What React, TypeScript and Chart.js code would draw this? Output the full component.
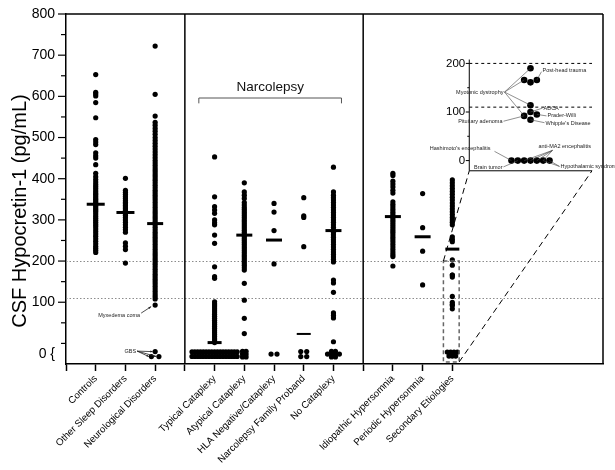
import React, { useEffect, useRef } from "react";
import { Chart, registerables } from "chart.js";

Chart.register(...registerables);

// ---------------- data ----------------
const categories = [
  "", "Controls", "Other Sleep Disorders", "Neurological Disorders", "",
  "Typical Cataplexy", "Atypical Cataplexy", "HLA Negative/Cataplexy",
  "Narcolepsy Family Proband", "No Cataplexy", "",
  "Idiopathic Hypersomnia", "Periodic Hypersomnia", "Secondary Etiologies",
];

const controls = [653, 610, 606, 601, 585, 548, 495, 489, 483, 463, 456, 450, 434, 413, 405, 398, 392, 386, 381, 376, 371, 366, 362, 358, 354, 350, 346, 342, 338, 335, 331, 327, 323, 319, 314, 309, 304, 299, 294, 289, 284, 278, 272, 266, 260, 254, 248, 242, 236, 231, 226, 221];
const otherSleep = [401, 372, 367, 362, 357, 352, 347, 343, 339, 335, 331, 327, 323, 319, 315, 311, 306, 300, 294, 288, 282, 276, 270, 244, 236, 228, 195];
const neurological = [722, 605, 552, 537, 530, 522, 515, 508, 500, 493, 486, 479, 472, 465, 458, 451, 444, 438, 432, 426, 420, 414, 408, 402, 396, 390, 384, 378, 372, 366, 360, 354, 348, 342, 336, 330, 324, 318, 312, 306, 300, 294, 288, 282, 276, 270, 264, 258, 252, 246, 240, 234, 228, 222, 216, 210, 204, 198, 192, 186, 180, 174, 168, 162, 156, 150, 144, 138, 132, 126, 120, 114, 108, 93];
const typicalCataplexy = [453, 356, 332, 324, 316, 300, 293, 288, 263, 243, 186, 162, 158, 101, 96, 91, 86, 81, 76, 71, 66, 61, 56, 51, 46, 41, 36, 31, 26, 21, 16, 11, 6, 2];
const atypicalCataplexy = [390, 368, 360, 352, 342, 336, 330, 325, 320, 315, 310, 305, 300, 295, 290, 285, 280, 275, 270, 265, 260, 255, 250, 245, 240, 235, 230, 225, 220, 215, 210, 205, 200, 195, 190, 184, 178, 146, 105, 61, 24];
const hlaNegative = [340, 319, 274, 193];
const familyProband = [354, 310, 306, 235];
const noCataplexy = [428, 368, 360, 354, 348, 342, 336, 330, 324, 318, 312, 306, 300, 294, 288, 282, 276, 270, 264, 258, 252, 246, 240, 234, 228, 222, 216, 210, 204, 198, 154, 147, 124, 74, 68, 62, 4];
const idiopathic = [413, 408, 394, 387, 380, 372, 365, 344, 338, 332, 326, 320, 315, 310, 305, 300, 295, 290, 285, 280, 275, 270, 264, 258, 252, 246, 240, 234, 228, 222, 216, 211, 188];
const periodic = [364, 281, 224, 142];
const secondary = [397, 390, 383, 376, 369, 362, 355, 348, 341, 334, 327, 320, 313, 306, 300, 294, 288, 259, 253, 247, 203, 190, 166, 166, 161, 114, 100, 95, 92, 84];

const groupValues = [null, controls, otherSleep, neurological, null, typicalCataplexy, atypicalCataplexy, hlaNegative, familyProband, noCataplexy, null, idiopathic, periodic, secondary];
const medians = [null, 338, 318, 291, null, 2, 263, 251, 23, 274, null, 308, 259, 229];
// counts of undetectable ("0 {") values, per row of the cluster
const undetectableRows = [[], [], [], [1, 2], [], [17, 17], [2, 2, 2], [2], [2, 2], [2, 4, 2], [], [], [], [4, 3]];

const cutoffs = [200, 110];
const yMajorTicks = [100, 200, 300, 400, 500, 600, 700, 800];

// enlarged panel: secondary etiologies below 200 pg/mL
const insetValues = [190, 161, 166, 166, 114, 100, 95, 92, 84, 0, 0, 0, 0, 0, 0, 0];
const insetTicks = [0, 100, 200];
const insetNotes = [
  { text: "Myotonic dystrophy", targets: [0, 3, 4, 7] },
  { text: "Post-head trauma", targets: [2] },
  { text: "ADCA", targets: [5] },
  { text: "Prader-Willi", targets: [6] },
  { text: "Whipple's Disease", targets: [8] },
  { text: "Pituitary adenoma", targets: [7] },
  { text: "Hashimoto's encephalitis", targets: [15] },
  { text: "anti-MA2 encephalitis", targets: [11, 9, 10, 12] },
  { text: "Brain tumor", targets: [13] },
  { text: "Hypothalamic syndrome", targets: [14, 12] },
];

// ---------------- layout / style ----------------
const FONT = "'Liberation Sans', Arial, sans-serif";
const UNDETECTABLE_LEVEL = -26;
const ZERO_LABEL_AT = -27;
const zeroGapX = [0, 0, 0, 7.6, 0, 2.85, 3.6, 6, 6, 4, 0, 0, 0, 3.4];
const zeroGapY = [0, 0, 0, 5, 0, 4.6, 2.8, 0, 5, 2.8, 0, 0, 0, 4];
const medianHalf = [0, 9, 9, 8, 0, 7, 8, 8, 7, 8, 0, 8, 8, 7];
const medianWidth = [0, 3, 3, 3, 0, 3, 3, 3, 2, 3, 0, 3, 3, 3];
const INSET = { left: 13.57, center: 15.63, right: 17.7, floor: -21, top: 208, base: 444, gain: 1.18 };
const insetToMain = (v: number) => INSET.base + v * INSET.gain;
const ZOOM_BOX = { x0: 12.7, x1: 13.23, v0: -45, v1: 200 };
const insetNoteLayout = [
  { dx: -27, v: 141, align: "right", sdx: -26, sv: 141 },
  { dx: 12, v: 186, align: "left", sdx: 11, sv: 183 },
  { dx: 13, v: 108, align: "left", sdx: 12, sv: 108 },
  { dx: 17, v: 92, align: "left", sdx: 16, sv: 92 },
  { dx: 15, v: 77, align: "left", sdx: 14, sv: 78 },
  { dx: -28, v: 80, align: "right", sdx: -27, sv: 81 },
  { dx: -40, v: 24, align: "right", sdx: -36, sv: 19 },
  { dx: 8, v: 29, align: "left", sdx: 22, sv: 21 },
  { dx: -28, v: -15, align: "right", sdx: -27, sv: -13 },
  { dx: 30, v: -13, align: "left", sdx: 29, sv: -12 },
];

function swarm(valsPx: number[], d: number): number[] {
  const placed: { o: number; y: number }[] = [];
  return valsPx.map((y) => {
    for (let k = 0; k < 60; k++) {
      const o = k === 0 ? 0 : (k % 2 === 1 ? 1 : -1) * Math.ceil(k / 2) * d;
      if (placed.every((p) => Math.hypot(p.o - o, p.y - y) >= d * 0.97)) {
        placed.push({ o, y });
        return o;
      }
    }
    return 0;
  });
}

function seg(ctx: CanvasRenderingContext2D, x1: number, y1: number, x2: number, y2: number) {
  ctx.beginPath();
  ctx.moveTo(x1, y1);
  ctx.lineTo(x2, y2);
  ctx.stroke();
}

function arrow(ctx: CanvasRenderingContext2D, x1: number, y1: number, x2: number, y2: number, s: number) {
  seg(ctx, x1, y1, x2, y2);
  const a = Math.atan2(y2 - y1, x2 - x1);
  ctx.beginPath();
  ctx.moveTo(x2, y2);
  ctx.lineTo(x2 - s * Math.cos(a - 0.4), y2 - s * Math.sin(a - 0.4));
  ctx.lineTo(x2 - s * Math.cos(a + 0.4), y2 - s * Math.sin(a + 0.4));
  ctx.closePath();
  ctx.fill();
}

const overlay = {
  id: "overlay",
  beforeDatasetsDraw(chart: any) {
    const { ctx, chartArea: a, scales } = chart;
    const y = scales.y;
    ctx.save();
    ctx.strokeStyle = "#8c8c8c";
    ctx.lineWidth = 1;
    ctx.setLineDash([1.5, 2]);
    cutoffs.forEach((c) => {
      const py = Math.round(y.getPixelForValue(c)) + 0.5;
      seg(ctx, a.left, py, a.right, py);
    });
    ctx.restore();
  },
  afterDatasetsDraw(chart: any) {
    const { ctx, chartArea: a, scales } = chart;
    const x = scales.x;
    const y = scales.y;
    const X = (v: number) => x.getPixelForValue(v);
    const Y = (v: number) => y.getPixelForValue(v);
    ctx.save();
    ctx.strokeStyle = "#000";
    ctx.lineWidth = 1.5;
    // frame
    seg(ctx, a.left, a.top, a.right, a.top);
    seg(ctx, a.right, a.top, a.right, a.bottom);
    // group separators
    [4, 10].forEach((s) => seg(ctx, X(s), a.top, X(s), a.bottom));
    // y ticks
    ctx.lineWidth = 1.2;
    for (let v = 0; v <= 800; v += 50) {
      const len = v > 0 && v % 100 === 0 ? 8 : 5;
      const py = Y(v);
      seg(ctx, a.left - len, py, a.left, py);
    }
    // y title
    ctx.save();
    ctx.translate(20, (a.top + a.bottom) / 2 + 22);
    ctx.rotate(-Math.PI / 2);
    ctx.fillStyle = "#000";
    ctx.font = `20px ${FONT}`;
    ctx.textAlign = "center";
    ctx.textBaseline = "middle";
    ctx.fillText("CSF Hypocretin-1 (pg/mL)", 0, 0);
    ctx.restore();

    // Narcolepsy bracket
    ctx.strokeStyle = "#555";
    ctx.lineWidth = 1;
    const by = Y(596);
    const bt = Y(583);
    ctx.beginPath();
    ctx.moveTo(X(4.47), bt);
    ctx.lineTo(X(4.47), by);
    ctx.lineTo(X(9.27), by);
    ctx.lineTo(X(9.27), bt);
    ctx.stroke();
    ctx.fillStyle = "#111";
    ctx.font = `13.5px ${FONT}`;
    ctx.textAlign = "center";
    ctx.textBaseline = "middle";
    ctx.fillText("Narcolepsy", X(6.87), Y(621));

    // zoom box
    ctx.strokeStyle = "#666";
    ctx.lineWidth = 1.5;
    ctx.setLineDash([4, 3]);
    ctx.strokeRect(X(ZOOM_BOX.x0), Y(ZOOM_BOX.v1), X(ZOOM_BOX.x1) - X(ZOOM_BOX.x0), Y(ZOOM_BOX.v0) - Y(ZOOM_BOX.v1));
    // connectors
    ctx.strokeStyle = "#000";
    ctx.lineWidth = 1;
    ctx.setLineDash([6, 4]);
    const ib = Y(insetToMain(INSET.floor));
    seg(ctx, X(ZOOM_BOX.x0), Y(ZOOM_BOX.v1), X(INSET.left), ib);
    seg(ctx, X(ZOOM_BOX.x1), Y(ZOOM_BOX.v0), X(INSET.right), ib);

    // inset axes
    ctx.setLineDash([]);
    ctx.lineWidth = 1;
    const il = X(INSET.left);
    const ir = X(INSET.right);
    const it = Y(insetToMain(INSET.top));
    seg(ctx, il, it, il, ib);
    seg(ctx, il, ib, ir, ib);
    for (let v = 0; v <= 200; v += 50) {
      const len = v % 100 === 0 ? 3.5 : 2;
      seg(ctx, il - len, Y(insetToMain(v)), il, Y(insetToMain(v)));
    }
    ctx.fillStyle = "#000";
    ctx.font = `11.5px ${FONT}`;
    ctx.textAlign = "right";
    ctx.textBaseline = "middle";
    insetTicks.forEach((t) => ctx.fillText(String(t), il - 4, Y(insetToMain(t))));
    ctx.setLineDash([3, 3]);
    cutoffs.forEach((c) => seg(ctx, il, Y(insetToMain(c)), ir, Y(insetToMain(c))));
    ctx.setLineDash([]);

    // inset annotations
    const ins = chart.$inset as { x: number; y: number }[] | undefined;
    const cx = X(INSET.center);
    if (ins) {
      ctx.font = `5.5px ${FONT}`;
      ctx.fillStyle = "#222";
      ctx.strokeStyle = "#444";
      ctx.lineWidth = 0.6;
      insetNotes.forEach((n, i) => {
        const L = insetNoteLayout[i];
        ctx.textAlign = L.align as CanvasTextAlign;
        ctx.fillText(n.text, cx + L.dx, Y(insetToMain(L.v)));
        const sx = cx + L.sdx;
        const sy = Y(insetToMain(L.sv));
        n.targets.forEach((t) => {
          const p = ins[t];
          seg(ctx, sx, sy, X(p.x), Y(p.y));
        });
      });
    }

    // main annotations
    const nx = X(3);
    const myx = Y(93);
    ctx.font = `5.5px ${FONT}`;
    ctx.fillStyle = "#222";
    ctx.strokeStyle = "#222";
    ctx.lineWidth = 0.8;
    ctx.textAlign = "right";
    ctx.fillText("Myxedema coma", nx - 15, myx + 10);
    arrow(ctx, nx - 14, myx + 8, nx - 4, myx + 1.5, 3);
    const gbs = chart.$gbs as { x: number; y: number }[] | undefined;
    if (gbs) {
      const gx = nx - 19;
      const gy = Y(UNDETECTABLE_LEVEL) - 3;
      ctx.fillText("GBS", gx, gy);
      gbs.forEach((p) => arrow(ctx, gx + 1, gy, X(p.x) - 2.5, Y(p.y), 2.5));
    }
    ctx.restore();
  },
};

function buildDatasets(chart: any) {
  const xs = chart.scales.x;
  const ys = chart.scales.y;
  const pxX = xs.getPixelForValue(1) - xs.getPixelForValue(0);
  const pxY = ys.getPixelForValue(0) - ys.getPixelForValue(1);
  const pts: { x: number; y: number }[] = [];
  const gbs: { x: number; y: number }[] = [];
  groupValues.forEach((vals, i) => {
    if (!vals) return;
    vals.forEach((v) => pts.push({ x: i, y: v }));
    const rows = undetectableRows[i];
    const R = rows.length;
    rows.forEach((n, r) => {
      const yv = UNDETECTABLE_LEVEL - ((r - (R - 1) / 2) * zeroGapY[i]) / pxY;
      for (let j = 0; j < n; j++) {
        const p = { x: i + ((j - (n - 1) / 2) * zeroGapX[i]) / pxX, y: yv };
        pts.push(p);
        if (i === 3) gbs.push(p);
      }
    });
  });
  const med: { x: number; y: number }[] = [];
  const medR: number[] = [];
  const medW: number[] = [];
  medians.forEach((m, i) => {
    if (m == null) return;
    med.push({ x: i, y: m });
    medR.push(medianHalf[i]);
    medW.push(medianWidth[i]);
  });
  const insetPxPerUnit = pxY * INSET.gain;
  const offs = swarm(insetValues.map((v) => -v * insetPxPerUnit), 6.4);
  const inset = insetValues.map((v, i) => ({ x: INSET.center + offs[i] / pxX, y: insetToMain(v) }));
  chart.$inset = inset;
  chart.$gbs = gbs;
  return [
    {
      label: "values",
      data: pts,
      pointRadius: 2.6,
      pointBackgroundColor: "#000",
      pointBorderWidth: 0,
      showLine: false,
    },
    {
      label: "median",
      data: med,
      pointStyle: "line",
      pointRadius: medR,
      pointBorderWidth: medW,
      pointBorderColor: "#000",
      borderColor: "#000",
      showLine: false,
    },
    {
      label: "enlarged",
      data: inset,
      pointRadius: 3.3,
      pointBackgroundColor: "#000",
      pointBorderWidth: 0,
      showLine: false,
    },
  ];
}

export default function App() {
  const ref = useRef<HTMLCanvasElement>(null);
  useEffect(() => {
    const canvas = ref.current;
    if (!canvas) return;
    const chart: any = new Chart(canvas, {
      type: "scatter",
      data: { datasets: [] },
      options: {
        responsive: false,
        animation: false,
        devicePixelRatio: 1,
        events: [],
        layout: { padding: { top: 14, right: 7, left: 0, bottom: 0 } },
        plugins: { legend: { display: false }, tooltip: { enabled: false } },
        scales: {
          x: {
            type: "linear",
            min: 0,
            max: 18.07,
            afterBuildTicks: (s: any) => {
              s.ticks = categories.map((_, i) => ({ value: i }));
            },
            afterFit: (s: any) => {
              s.height = 106;
            },
            ticks: {
              autoSkip: false,
              minRotation: 45,
              maxRotation: 45,
              padding: 2,
              color: "#000",
              font: { family: FONT, size: 9.7 },
              callback: (v: any) => categories[Math.round(Number(v))] ?? "",
            },
            grid: { drawOnChartArea: false, tickLength: 7, tickColor: "#000", tickWidth: 1.5 },
            border: { color: "#000", width: 1.5 },
          },
          y: {
            type: "linear",
            min: -50,
            max: 800,
            afterBuildTicks: (s: any) => {
              s.ticks = [ZERO_LABEL_AT, ...yMajorTicks].map((v) => ({ value: v }));
            },
            afterFit: (s: any) => {
              s.width = 66;
            },
            ticks: {
              autoSkip: false,
              padding: 3,
              color: "#000",
              font: { family: FONT, size: 14 },
              callback: (v: any) => (Number(v) === ZERO_LABEL_AT ? "0 {" : String(v)),
            },
            grid: { drawOnChartArea: false, tickLength: 8, tickColor: "transparent" },
            border: { color: "#000", width: 1.5 },
          },
        },
      },
      plugins: [overlay],
    } as any);
    chart.data.datasets = buildDatasets(chart);
    chart.update();
    return () => chart.destroy();
  }, []);
  return (
    <div style={{ position: "fixed", left: 0, top: 0, width: 615, height: 470, background: "#fff" }}>
      <canvas ref={ref} width={615} height={470} style={{ display: "block" }} />
    </div>
  );
}
